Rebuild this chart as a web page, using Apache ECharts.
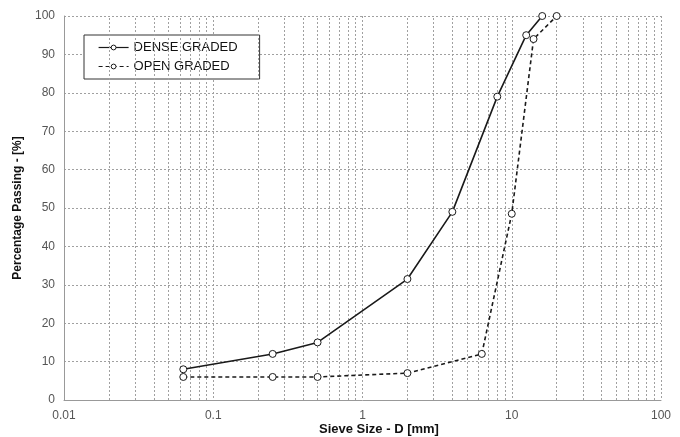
<!DOCTYPE html>
<html>
<head>
<meta charset="utf-8">
<script src="https://cdn.jsdelivr.net/npm/echarts@6/dist/echarts.min.js"></script>
<style>
  html, body { margin: 0; padding: 0; background: #fff; }
  #main { width: 680px; height: 437px; }
</style>
</head>
<body>
<div id="main"></div>
<script>
// sieve sizes in mm and percent passing
const denseSizes = [0.063, 0.25, 0.5, 2, 4, 8, 12.5, 16];
const densePassing = [8, 12, 15, 31.5, 49, 79, 95, 100];
const openSizes = [0.063, 0.25, 0.5, 2, 6.3, 10, 14, 20];
const openPassing = [6, 6, 6, 7, 12, 48.5, 94, 100];
const xTickLabels = ['0.01', '0.1', '1', '10', '100'];

// minor grid lines 2..9 in every decade
const minorLines = [];
[0.01, 0.1, 1, 10].forEach(function (d) {
  for (let k = 2; k <= 9; k++) minorLines.push({ xAxis: +(d * k).toPrecision(3) });
});

const gridLine = { color: '#a0a0a0', width: 1, type: [2, 2] };

let chart = echarts.init(document.getElementById('main'), null, { renderer: 'canvas' });
chart.setOption({
  animation: false,
  textStyle: { fontFamily: 'Liberation Sans, Arial, sans-serif' },
  grid: { left: 64, right: 19, top: 16, bottom: 37, outerBoundsMode: 'none', containLabel: false },
  legend: {
    orient: 'vertical',
    left: 84, top: 35,
    padding: [6, 22, 6, 14],
    itemGap: 6,
    itemWidth: 30, itemHeight: 6,
    backgroundColor: '#fff',
    borderColor: '#333', borderWidth: 1,
    textStyle: { fontSize: 13, color: '#111' },
    lineStyle: { width: 1.2 },
    itemStyle: { borderWidth: 1 },
    data: ['DENSE GRADED', 'OPEN GRADED']
  },
  // x axis title sits a bit right of the plot centre in the original
  graphic: [{
    type: 'text',
    left: 319, top: 423,
    style: {
      text: 'Sieve Size - D [mm]',
      font: 'bold 13px "Liberation Sans", Arial, sans-serif',
      fill: '#111'
    }
  }],
  xAxis: {
    type: 'log', logBase: 10, min: 0.01, max: 100,
    axisLine: { lineStyle: { color: '#999' } },
    axisTick: { show: false },
    axisLabel: {
      color: '#555', fontSize: 12, margin: 10,
      formatter: function (v) {
        const i = Math.round(Math.log10(v)) + 2;
        return xTickLabels[i] !== undefined ? xTickLabels[i] : '';
      }
    },
    splitLine: { show: true, lineStyle: gridLine }
  },
  yAxis: {
    type: 'value', min: 0, max: 100, interval: 10,
    name: 'Percentage Passing - [%]',
    nameLocation: 'middle', nameGap: 37, nameRotate: 90,
    nameTextStyle: { fontWeight: 'bold', fontSize: 12, color: '#111' },
    axisLine: { show: true, lineStyle: { color: '#999' } },
    axisTick: { show: false },
    axisLabel: { color: '#555', fontSize: 12, margin: 9 },
    splitLine: { show: true, lineStyle: gridLine }
  },
  series: [
    {
      name: 'grid',
      type: 'line',
      data: [],
      silent: true,
      markLine: {
        silent: true,
        symbol: 'none',
        label: { show: false },
        lineStyle: gridLine,
        data: minorLines
      }
    },
    {
      name: 'DENSE GRADED',
      type: 'line',
      data: denseSizes.map(function (s, i) { return [s, densePassing[i]]; }),
      symbol: 'circle', symbolSize: 7,
      itemStyle: { color: '#fff', borderColor: '#1a1a1a', borderWidth: 1 },
      lineStyle: { color: '#1a1a1a', width: 1.6 },
      z: 5
    },
    {
      name: 'OPEN GRADED',
      type: 'line',
      data: openSizes.map(function (s, i) { return [s, openPassing[i]]; }),
      symbol: 'circle', symbolSize: 7,
      itemStyle: { color: '#fff', borderColor: '#1a1a1a', borderWidth: 1 },
      lineStyle: { color: '#1a1a1a', width: 1.6, type: [4, 3] },
      z: 5
    }
  ]
});
</script>
</body>
</html>
